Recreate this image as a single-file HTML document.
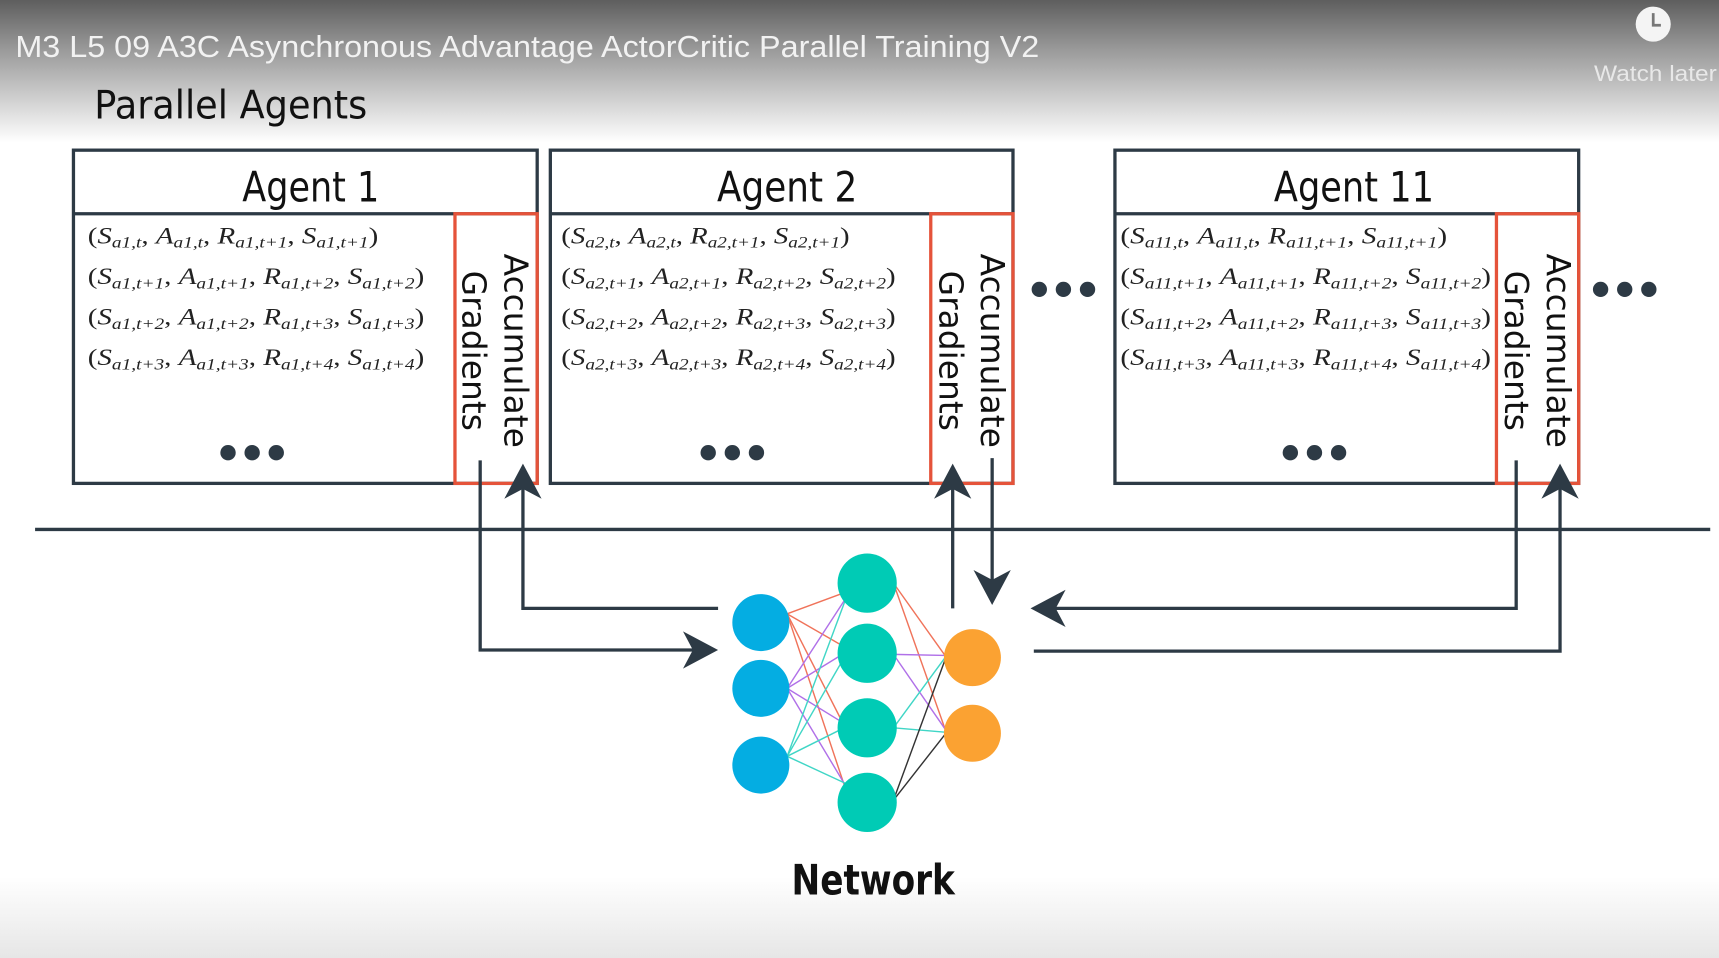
<!DOCTYPE html>
<html><head><meta charset="utf-8"><style>
html,body{margin:0;padding:0;width:1719px;height:958px;overflow:hidden;background:#fff}
svg{display:block}
.tp{font-family:"Liberation Serif",serif;font-size:21px;fill:#222}
.tp tspan.s{font-size:14px;font-style:italic}
.i{font-style:italic}
.h{font-family:"DejaVu Sans","Liberation Sans",sans-serif;fill:#111}
</style></head><body>
<svg width="1719" height="958" viewBox="0 0 1568 874" preserveAspectRatio="none">
<defs>
<linearGradient id="tg" x1="0" y1="0" x2="0" y2="1">
<stop offset="0" stop-color="#5e5e5e"/><stop offset="0.35" stop-color="#9a9a9a"/><stop offset="1" stop-color="#fff"/>
</linearGradient>
<linearGradient id="bg" x1="0" y1="0" x2="0" y2="1">
<stop offset="0" stop-color="#fff"/><stop offset="1" stop-color="#e6e6e6"/>
</linearGradient>
</defs>
<rect x="0" y="0" width="1568" height="874" fill="#fff"/>
<rect x="0" y="0" width="1568" height="130" fill="url(#tg)"/>
<rect x="0" y="800" width="1568" height="74" fill="url(#bg)"/>
<text x="14" y="52" font-family="Liberation Sans,sans-serif" font-size="28" fill="#f2f2f2" textLength="934" lengthAdjust="spacingAndGlyphs">M3 L5 09 A3C Asynchronous Advantage ActorCritic Parallel Training V2</text>
<circle cx="1508" cy="22" r="16" fill="#f4f4f4"/>
<path d="M1508 12 V23 H1515" stroke="#777" stroke-width="2.5" fill="none"/>
<text x="1454" y="74" font-family="Liberation Sans,sans-serif" font-size="20" fill="#e8e8e8" textLength="112" lengthAdjust="spacingAndGlyphs">Watch later</text>
<text x="86" y="108" class="h" font-size="36" textLength="249" lengthAdjust="spacingAndGlyphs">Parallel Agents</text>

<g stroke="#2d3a45" stroke-width="3" fill="none">
<rect x="67" y="137" width="423" height="304"/><line x1="67" y1="195" x2="490" y2="195"/>
<rect x="502" y="137" width="422" height="304"/><line x1="502" y1="195" x2="924" y2="195"/>
<rect x="1017" y="137" width="423" height="304"/><line x1="1017" y1="195" x2="1440" y2="195"/>
</g>
<g stroke="#e5533a" stroke-width="3" fill="none">
<rect x="415" y="195" width="75" height="246"/>
<rect x="849" y="195" width="75" height="246"/>
<rect x="1365" y="195" width="75" height="246"/>
</g>
<g class="h" font-size="38">
<text x="221" y="184" textLength="125" lengthAdjust="spacingAndGlyphs">Agent 1</text>
<text x="654" y="184" textLength="128" lengthAdjust="spacingAndGlyphs">Agent 2</text>
<text x="1162" y="184" textLength="146" lengthAdjust="spacingAndGlyphs">Agent 11</text>
</g>
<g class="h" font-size="30" text-anchor="middle">
<text transform="translate(460,320) rotate(90)">Accumulate</text>
<text transform="translate(422,320) rotate(90)">Gradients</text>
<text transform="translate(895,320) rotate(90)">Accumulate</text>
<text transform="translate(857,320) rotate(90)">Gradients</text>
<text transform="translate(1411,320) rotate(90)">Accumulate</text>
<text transform="translate(1373,320) rotate(90)">Gradients</text>
</g>

<g class="tp">
<text x="80" y="222" textLength="265" lengthAdjust="spacingAndGlyphs">(<tspan class="i">S</tspan><tspan class="s" dy="4">a1,t</tspan><tspan dy="-4">, </tspan><tspan class="i">A</tspan><tspan class="s" dy="4">a1,t</tspan><tspan dy="-4">, </tspan><tspan class="i">R</tspan><tspan class="s" dy="4">a1,t+1</tspan><tspan dy="-4">, </tspan><tspan class="i">S</tspan><tspan class="s" dy="4">a1,t+1</tspan><tspan dy="-4">)</tspan></text>
<text x="80" y="259" textLength="307" lengthAdjust="spacingAndGlyphs">(<tspan class="i">S</tspan><tspan class="s" dy="4">a1,t+1</tspan><tspan dy="-4">, </tspan><tspan class="i">A</tspan><tspan class="s" dy="4">a1,t+1</tspan><tspan dy="-4">, </tspan><tspan class="i">R</tspan><tspan class="s" dy="4">a1,t+2</tspan><tspan dy="-4">, </tspan><tspan class="i">S</tspan><tspan class="s" dy="4">a1,t+2</tspan><tspan dy="-4">)</tspan></text>
<text x="80" y="296" textLength="307" lengthAdjust="spacingAndGlyphs">(<tspan class="i">S</tspan><tspan class="s" dy="4">a1,t+2</tspan><tspan dy="-4">, </tspan><tspan class="i">A</tspan><tspan class="s" dy="4">a1,t+2</tspan><tspan dy="-4">, </tspan><tspan class="i">R</tspan><tspan class="s" dy="4">a1,t+3</tspan><tspan dy="-4">, </tspan><tspan class="i">S</tspan><tspan class="s" dy="4">a1,t+3</tspan><tspan dy="-4">)</tspan></text>
<text x="80" y="333" textLength="307" lengthAdjust="spacingAndGlyphs">(<tspan class="i">S</tspan><tspan class="s" dy="4">a1,t+3</tspan><tspan dy="-4">, </tspan><tspan class="i">A</tspan><tspan class="s" dy="4">a1,t+3</tspan><tspan dy="-4">, </tspan><tspan class="i">R</tspan><tspan class="s" dy="4">a1,t+4</tspan><tspan dy="-4">, </tspan><tspan class="i">S</tspan><tspan class="s" dy="4">a1,t+4</tspan><tspan dy="-4">)</tspan></text>

<text x="512" y="222" textLength="263" lengthAdjust="spacingAndGlyphs">(<tspan class="i">S</tspan><tspan class="s" dy="4">a2,t</tspan><tspan dy="-4">, </tspan><tspan class="i">A</tspan><tspan class="s" dy="4">a2,t</tspan><tspan dy="-4">, </tspan><tspan class="i">R</tspan><tspan class="s" dy="4">a2,t+1</tspan><tspan dy="-4">, </tspan><tspan class="i">S</tspan><tspan class="s" dy="4">a2,t+1</tspan><tspan dy="-4">)</tspan></text>
<text x="512" y="259" textLength="305" lengthAdjust="spacingAndGlyphs">(<tspan class="i">S</tspan><tspan class="s" dy="4">a2,t+1</tspan><tspan dy="-4">, </tspan><tspan class="i">A</tspan><tspan class="s" dy="4">a2,t+1</tspan><tspan dy="-4">, </tspan><tspan class="i">R</tspan><tspan class="s" dy="4">a2,t+2</tspan><tspan dy="-4">, </tspan><tspan class="i">S</tspan><tspan class="s" dy="4">a2,t+2</tspan><tspan dy="-4">)</tspan></text>
<text x="512" y="296" textLength="305" lengthAdjust="spacingAndGlyphs">(<tspan class="i">S</tspan><tspan class="s" dy="4">a2,t+2</tspan><tspan dy="-4">, </tspan><tspan class="i">A</tspan><tspan class="s" dy="4">a2,t+2</tspan><tspan dy="-4">, </tspan><tspan class="i">R</tspan><tspan class="s" dy="4">a2,t+3</tspan><tspan dy="-4">, </tspan><tspan class="i">S</tspan><tspan class="s" dy="4">a2,t+3</tspan><tspan dy="-4">)</tspan></text>
<text x="512" y="333" textLength="305" lengthAdjust="spacingAndGlyphs">(<tspan class="i">S</tspan><tspan class="s" dy="4">a2,t+3</tspan><tspan dy="-4">, </tspan><tspan class="i">A</tspan><tspan class="s" dy="4">a2,t+3</tspan><tspan dy="-4">, </tspan><tspan class="i">R</tspan><tspan class="s" dy="4">a2,t+4</tspan><tspan dy="-4">, </tspan><tspan class="i">S</tspan><tspan class="s" dy="4">a2,t+4</tspan><tspan dy="-4">)</tspan></text>

<text x="1022" y="222" textLength="298" lengthAdjust="spacingAndGlyphs">(<tspan class="i">S</tspan><tspan class="s" dy="4">a11,t</tspan><tspan dy="-4">, </tspan><tspan class="i">A</tspan><tspan class="s" dy="4">a11,t</tspan><tspan dy="-4">, </tspan><tspan class="i">R</tspan><tspan class="s" dy="4">a11,t+1</tspan><tspan dy="-4">, </tspan><tspan class="i">S</tspan><tspan class="s" dy="4">a11,t+1</tspan><tspan dy="-4">)</tspan></text>
<text x="1022" y="259" textLength="338" lengthAdjust="spacingAndGlyphs">(<tspan class="i">S</tspan><tspan class="s" dy="4">a11,t+1</tspan><tspan dy="-4">, </tspan><tspan class="i">A</tspan><tspan class="s" dy="4">a11,t+1</tspan><tspan dy="-4">, </tspan><tspan class="i">R</tspan><tspan class="s" dy="4">a11,t+2</tspan><tspan dy="-4">, </tspan><tspan class="i">S</tspan><tspan class="s" dy="4">a11,t+2</tspan><tspan dy="-4">)</tspan></text>
<text x="1022" y="296" textLength="338" lengthAdjust="spacingAndGlyphs">(<tspan class="i">S</tspan><tspan class="s" dy="4">a11,t+2</tspan><tspan dy="-4">, </tspan><tspan class="i">A</tspan><tspan class="s" dy="4">a11,t+2</tspan><tspan dy="-4">, </tspan><tspan class="i">R</tspan><tspan class="s" dy="4">a11,t+3</tspan><tspan dy="-4">, </tspan><tspan class="i">S</tspan><tspan class="s" dy="4">a11,t+3</tspan><tspan dy="-4">)</tspan></text>
<text x="1022" y="333" textLength="338" lengthAdjust="spacingAndGlyphs">(<tspan class="i">S</tspan><tspan class="s" dy="4">a11,t+3</tspan><tspan dy="-4">, </tspan><tspan class="i">A</tspan><tspan class="s" dy="4">a11,t+3</tspan><tspan dy="-4">, </tspan><tspan class="i">R</tspan><tspan class="s" dy="4">a11,t+4</tspan><tspan dy="-4">, </tspan><tspan class="i">S</tspan><tspan class="s" dy="4">a11,t+4</tspan><tspan dy="-4">)</tspan></text>
</g>

<g fill="#2d3a45">
<circle cx="208" cy="413" r="7"/><circle cx="230" cy="413" r="7"/><circle cx="252" cy="413" r="7"/>
<circle cx="646" cy="413" r="7"/><circle cx="668" cy="413" r="7"/><circle cx="690" cy="413" r="7"/>
<circle cx="1177" cy="413" r="7"/><circle cx="1199" cy="413" r="7"/><circle cx="1221" cy="413" r="7"/>
<circle cx="948" cy="264" r="7"/><circle cx="970" cy="264" r="7"/><circle cx="992" cy="264" r="7"/>
<circle cx="1460" cy="264" r="7"/><circle cx="1482" cy="264" r="7"/><circle cx="1504" cy="264" r="7"/>
</g>

<line x1="32" y1="483" x2="1560" y2="483" stroke="#2d3a45" stroke-width="3"/>

<g stroke="#2d3a45" stroke-width="3" fill="none">
<polyline points="438,420 438,593 640,593"/>
<polyline points="655,555 477,555 477,440"/>
<line x1="869" y1="555" x2="869" y2="440"/>
<line x1="905" y1="418" x2="905" y2="535"/>
<polyline points="1383,420 1383,555 955,555"/>
<polyline points="943,594 1423,594 1423,440"/>
</g>
<g fill="#2d3a45">
<polygon points="655,593 623,576 632,593 623,610"/>
<polygon points="477,423 460,455 477,446 494,455"/>
<polygon points="869,423 852,455 869,446 886,455"/>
<polygon points="905,552 888,520 905,529 922,520"/>
<polygon points="940,555 972,538 963,555 972,572"/>
<polygon points="1423,423 1406,455 1423,446 1440,455"/>
</g>

<g stroke-width="1.3">
<g stroke="#f0735a">
<line x1="718" y1="560" x2="772" y2="540"/><line x1="718" y1="560" x2="770" y2="590"/><line x1="718" y1="560" x2="770" y2="662"/><line x1="718" y1="560" x2="772" y2="722"/>
<line x1="815" y1="532" x2="862" y2="598"/><line x1="815" y1="532" x2="862" y2="665"/>
</g>
<g stroke="#b070e8">
<line x1="718" y1="628" x2="772" y2="545"/><line x1="718" y1="628" x2="770" y2="596"/><line x1="718" y1="628" x2="770" y2="660"/><line x1="718" y1="628" x2="772" y2="718"/>
<line x1="815" y1="597" x2="862" y2="598"/><line x1="815" y1="597" x2="862" y2="665"/>
</g>
<g stroke="#40d6c6">
<line x1="718" y1="690" x2="772" y2="545"/><line x1="718" y1="690" x2="770" y2="600"/><line x1="718" y1="690" x2="770" y2="664"/><line x1="718" y1="690" x2="772" y2="715"/>
<line x1="815" y1="664" x2="862" y2="600"/><line x1="815" y1="664" x2="862" y2="668"/>
</g>
<g stroke="#333">
<line x1="815" y1="730" x2="862" y2="602"/><line x1="815" y1="730" x2="862" y2="670"/>
</g>
</g>
<circle cx="694" cy="568" r="26" fill="#04ade2"/>
<circle cx="694" cy="628" r="26" fill="#04ade2"/>
<circle cx="694" cy="698" r="26" fill="#04ade2"/>
<circle cx="791" cy="532" r="27" fill="#00cbb5"/>
<circle cx="791" cy="596" r="27" fill="#00cbb5"/>
<circle cx="791" cy="664" r="27" fill="#00cbb5"/>
<circle cx="791" cy="732" r="27" fill="#00cbb5"/>
<circle cx="887" cy="600" r="26" fill="#fba232"/>
<circle cx="887" cy="669" r="26" fill="#fba232"/>

<text x="722" y="816" font-family="DejaVu Sans,Liberation Sans,sans-serif" font-weight="bold" font-size="38" fill="#111" textLength="149" lengthAdjust="spacingAndGlyphs">Network</text>
</svg>
</body></html>
